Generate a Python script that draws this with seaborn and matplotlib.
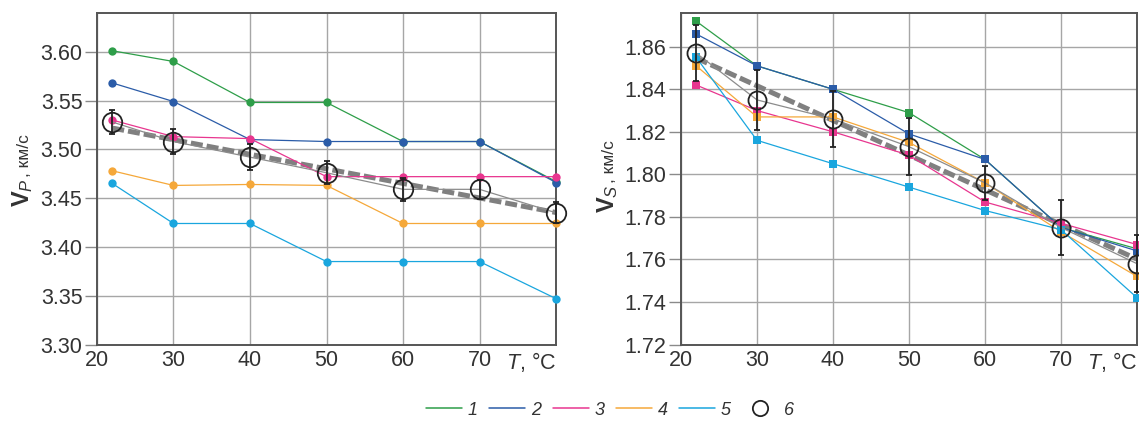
import numpy as np
import pandas as pd
import matplotlib
matplotlib.use('Agg')
import matplotlib.pyplot as plt
import seaborn as sns
from matplotlib.lines import Line2D

sns.set_style('whitegrid')
plt.rcParams['font.family'] = ['Liberation Sans', 'DejaVu Sans']
plt.rcParams['mathtext.fontset'] = 'custom'
plt.rcParams['mathtext.rm'] = 'Liberation Sans'
plt.rcParams['mathtext.it'] = 'Liberation Sans:italic'
plt.rcParams['mathtext.bf'] = 'Liberation Sans:bold'

T = [22, 30, 40, 50, 60, 70, 80]
names = ['1', '2', '3', '4', '5']
colors = ['#2e9e49', '#2b5ca8', '#e8368f', '#f5a83a', '#1aa6de']

# V_P, km/s
vp1 = [3.601, 3.590, 3.548, 3.548, 3.508, 3.508, 3.467]
vp2 = [3.568, 3.549, 3.510, 3.508, 3.508, 3.508, 3.466]
vp3 = [3.530, 3.513, 3.511, 3.472, 3.472, 3.472, 3.472]
vp4 = [3.478, 3.463, 3.464, 3.463, 3.424, 3.424, 3.424]
vp5 = [3.465, 3.424, 3.424, 3.385, 3.385, 3.385, 3.347]
vp_mean = [3.528, 3.508, 3.492, 3.476, 3.459, 3.459, 3.435]
vp_err = [0.012, 0.013, 0.013, 0.012, 0.012, 0.010, 0.011]

# V_S, km/s
vs1 = [1.872, 1.851, 1.840, 1.829, 1.807, 1.775, 1.765]
vs2 = [1.866, 1.851, 1.840, 1.819, 1.807, 1.775, 1.764]
vs3 = [1.842, 1.830, 1.820, 1.809, 1.787, 1.777, 1.767]
vs4 = [1.851, 1.827, 1.827, 1.815, 1.796, 1.773, 1.752]
vs5 = [1.855, 1.816, 1.805, 1.794, 1.783, 1.774, 1.742]
vs_mean = [1.857, 1.835, 1.826, 1.813, 1.796, 1.775, 1.758]
vs_err = [0.013, 0.014, 0.013, 0.0135, 0.008, 0.013, 0.0135]

W, H = 1139, 423
fig = plt.figure(figsize=(W / 100, H / 100), dpi=100)
ax1 = fig.add_axes([97 / W, 78.5 / H, 459 / W, 331.8 / H])
ax2 = fig.add_axes([681 / W, 78.5 / H, 456 / W, 331.8 / H])


def panel(ax, curves, mean, err, marker, ms, ms_c, ylim, yticks):
    df = pd.DataFrame({'T': T * len(curves),
                       'v': sum(curves, []),
                       'curve': np.repeat(names, len(T))})
    sns.regplot(x=np.array(T), y=np.array(mean), scatter=False, ci=None,
                truncate=True, color='#808080',
                line_kws=dict(lw=3.6, ls=(0, (2.4, 0.8)), zorder=2), ax=ax)
    sns.lineplot(data=df, x='T', y='v', hue='curve', palette=colors,
                 marker=marker, markersize=ms, markeredgewidth=0,
                 linewidth=0.9, legend=False, ax=ax, zorder=3, clip_on=False)
    sns.lineplot(x=T, y=mean, color='#8c8c8c', lw=0.9, ax=ax, zorder=4)
    ax.errorbar(T, mean, yerr=err, fmt='o', mfc='none', mec='#222222',
                mew=1.3, ms=ms_c, ecolor='#222222', elinewidth=1.3,
                capsize=2.5, zorder=5, clip_on=False)
    ax.set_xlim(20, 80)
    ax.set_ylim(*ylim)
    ax.set_yticks(yticks)
    ax.set_yticklabels(['%.2f' % v for v in yticks])
    ax.set_xticks([20, 30, 40, 50, 60, 70, 80])
    ax.set_xticklabels(['20', '30', '40', '50', '60', '70', '$T$, °C'])
    ax.get_xticklabels()[-1].set_ha('right')
    ax.set_xlabel('')
    ax.set_ylabel('')
    ax.grid(True, color='#a6a6a6', lw=1.0)
    for s in ax.spines.values():
        s.set_color('#555555')
        s.set_linewidth(1.4)
    ax.tick_params(axis='y', length=9, width=1, color='#8a8a8a', pad=1.5,
                   labelsize=15.5, labelcolor='#333333', left=True)
    ax.tick_params(axis='x', length=0, pad=4, labelsize=15.5,
                   labelcolor='#333333')


panel(ax1, [vp1, vp2, vp3, vp4, vp5], vp_mean, vp_err, 'o', 6, 14,
      (3.30, 3.64), [3.30, 3.35, 3.40, 3.45, 3.50, 3.55, 3.60])
panel(ax2, [vs1, vs2, vs3, vs4, vs5], vs_mean, vs_err, 's', 5.5, 13,
      (1.72, 1.876), [1.72, 1.74, 1.76, 1.78, 1.80, 1.82, 1.84, 1.86])


def ylabel(x_px, y_px, sub):
    r = fig.canvas.get_renderer()
    t1 = fig.text(x_px / W, y_px / H, r'$\mathbf{V}_{\mathit{%s}}$' % sub,
                  size=17, rotation=90, rotation_mode='anchor',
                  ha='left', va='baseline', color='#333333')
    h = t1.get_window_extent(r).height
    fig.text(x_px / W, (y_px + h + 1) / H, ', км/с', size=12.5, rotation=90,
             rotation_mode='anchor', ha='left', va='baseline',
             color='#333333')


ylabel(29, H - 207, 'P')
ylabel(614, H - 213, 'S')

handles = [Line2D([], [], color=c, lw=1.1) for c in colors]
handles.append(Line2D([], [], ls='none', marker='o', mfc='none',
                      mec='#222222', mew=1.3, ms=11))
leg = fig.legend(handles, names + ['6'], loc='center',
                 bbox_to_anchor=(610 / W, 1 - 410 / H), ncol=6,
                 frameon=False,
                 prop=dict(family='Liberation Sans', style='italic',
                           size=13),
                 handlelength=2.0, handletextpad=0.3, columnspacing=0.65)
for t in leg.get_texts():
    t.set_color('#333333')

fig.savefig('out.png', dpi=100)
